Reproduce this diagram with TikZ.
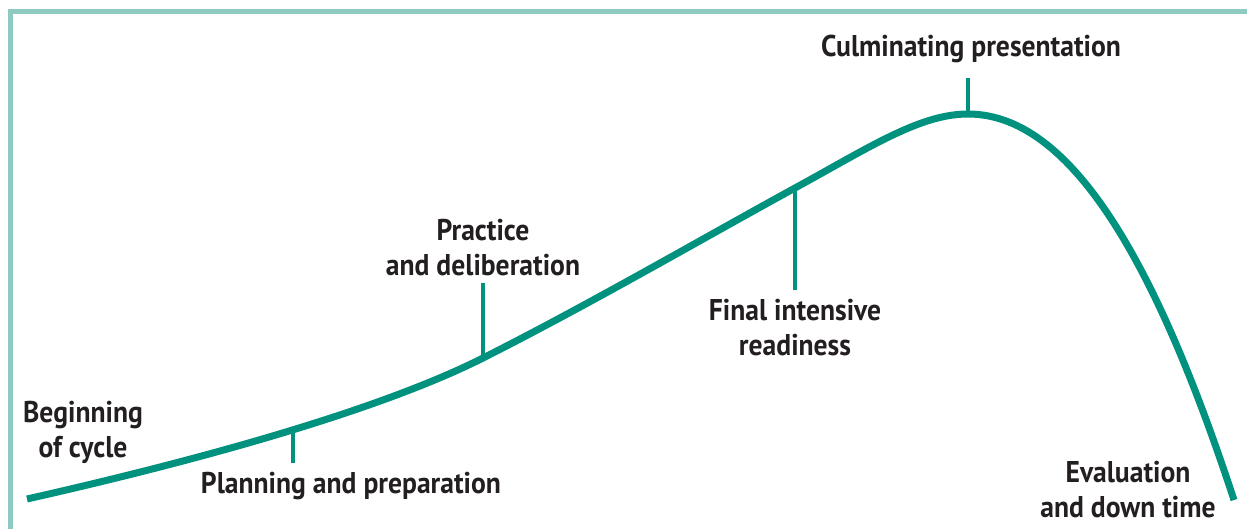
\documentclass[tikz,border=0pt]{standalone}
\usepackage{fontspec}
\setmainfont{PT Sans}[FakeStretch=0.92]
\definecolor{curvecol}{RGB}{0,146,126}
\definecolor{framecol}{RGB}{143,202,193}
\definecolor{txtcol}{RGB}{35,31,32}
\begin{document}
\begin{tikzpicture}[x=1pt,y=-1pt,
  lbl/.style={font=\fontsize{30}{35}\selectfont\bfseries, text=txtcol, align=center, inner sep=0pt},
  curveline/.style={draw=curvecol, line width=7pt},
  tickline/.style={draw=curvecol, line width=4pt}]
\useasboundingbox (0,0) rectangle (1247,529);
% frame
\draw[framecol, line width=5pt] (10.5,529) -- (10.5,11.5) -- (1247,11.5);
% points on curve
\coordinate (s) at (27,499);
\coordinate (c1) at (293,431);
\coordinate (c2) at (483,358);
\coordinate (c3) at (795,188);
\coordinate (c4) at (968,114);
\coordinate (e) at (1234,500);
% curve
\draw[curveline] (s) .. controls (200,460) and (380,410) .. (c2)
  .. controls (590,304) and (700,240) .. (c3)
  .. controls (870,147) and (920,114) .. (c4)
  .. controls (1080,114) and (1165,290) .. (e);
% ticks
\coordinate (t1) at (293,463);
\coordinate (t2) at (483,283);
\coordinate (t3) at (795,290);
\coordinate (t4) at (968,78);
\draw[tickline] (c1) -- (t1);
\draw[tickline] (c2) -- (t2);
\draw[tickline] (c3) -- (t3);
\draw[tickline] (c4) -- (t4);
% labels
\node[lbl] (begin) at (83,432) {Beginning\\of cycle};
\node[lbl] (plan) at (351,486) {Planning and preparation};
\node[lbl] (prac) at (483,248) {Practice\\and deliberation};
\node[lbl] (final) at (795,328) {Final intensive\\readiness};
\node[lbl] (culm) at (971,49) {Culminating presentation};
\node[lbl] (eval) at (1128,490) {Evaluation\\and down time};
\end{tikzpicture}
\end{document}
